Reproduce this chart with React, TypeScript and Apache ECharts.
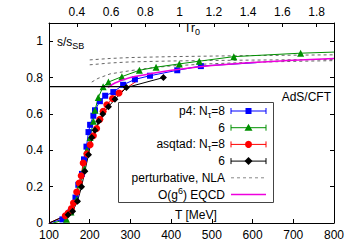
import React, { useEffect, useRef } from "react";
import * as echarts from "echarts";

// ---------- data ----------
const R0_MEV = 420.7; // 1/r0 in MeV, for the top Tr0 axis
const T_MIN = 100;
const T_MAX = 800;
const S_MIN = 0;
const S_MAX = 1.1;
const yTickValues = [0, 0.2, 0.4, 0.6, 0.8, 1];
const topTickValues = [0.4, 0.6, 0.8, 1, 1.2, 1.4, 1.6, 1.8];
const adsCftValue = 0.75;

// p4, N_tau = 8 (blue squares)
const p4Nt8T = [133, 153, 165, 172, 181, 186, 192, 197, 201, 209, 213, 225, 238, 258, 282, 311, 348, 415, 473];
const p4Nt8S = [0.02, 0.06, 0.14, 0.21, 0.27, 0.35, 0.42, 0.5, 0.54, 0.59, 0.62, 0.67, 0.7, 0.72, 0.76, 0.79, 0.81, 0.84, 0.863];
const p4Nt8Head = [[100, 0]];
const p4Nt8Tail = [[610, 0.882]];

// p4, N_tau = 6 (green triangles)
const p4Nt6T = [143, 154, 168, 176, 187, 193, 201, 209, 213, 221, 233, 246, 279, 322, 363, 420, 469, 554, 718];
const p4Nt6S = [0.02, 0.06, 0.13, 0.21, 0.3, 0.4, 0.47, 0.56, 0.62, 0.69, 0.75, 0.775, 0.805, 0.84, 0.857, 0.875, 0.89, 0.915, 0.934];
const p4Nt6Head = [[110, 0]];
const p4Nt6Tail = [[800, 0.94]];

// asqtad, N_tau = 8 (red circles)
const asqNt8T = [140, 147, 155, 160, 168, 174, 179, 184, 193, 201, 209, 217, 225, 233, 242, 256, 272];
const asqNt8S = [0.04, 0.055, 0.08, 0.11, 0.17, 0.22, 0.26, 0.33, 0.38, 0.43, 0.48, 0.52, 0.57, 0.615, 0.65, 0.685, 0.715];
const asqNt8Head = [[100, 0]];
const asqNt8Tail = [[315, 0.78]];

// asqtad, N_tau = 6 (black diamonds)
const asqNt6T = [147, 158, 170, 180, 188, 197, 205, 213, 222, 232, 246, 262, 290, 381];
const asqNt6S = [0.046, 0.064, 0.12, 0.2, 0.285, 0.375, 0.47, 0.51, 0.56, 0.6, 0.64, 0.68, 0.745, 0.8];
const asqNt6Head = [[100, 0]];

// perturbative NLA band (dashed)
const nlaUpperT = [200, 250, 300, 400, 500, 600, 700, 800];
const nlaUpperS = [0.897, 0.905, 0.91, 0.915, 0.918, 0.921, 0.923, 0.925];
const nlaMidT = [200, 250, 300, 400, 500, 600, 700, 800];
const nlaMidS = [0.87, 0.88, 0.886, 0.891, 0.894, 0.896, 0.898, 0.899];
const nlaLowT = [205, 220, 250, 300, 350, 400, 500, 600, 700, 800];
const nlaLowS = [0.775, 0.795, 0.82, 0.838, 0.853, 0.864, 0.876, 0.884, 0.889, 0.893];

// O(g^6) EQCD (magenta)
const eqcdT = [245, 262, 300, 336, 385, 420, 500, 600, 700, 800];
const eqcdS = [0.745, 0.77, 0.8, 0.815, 0.835, 0.846, 0.866, 0.883, 0.895, 0.905];

// ---------- style ----------
const FONT = "'Liberation Sans', Arial, Helvetica, sans-serif";
const BLUE = "#0000ff";
const GREEN = "#009000";
const RED = "#ff0000";
const BLACK = "#000000";
const MAGENTA = "#ee00dd";
const DASH = "#666666";

const GRID = { left: 49, top: 23, width: 285, height: 200 };

function pts(T: number[], S: number[]) {
  return T.map((t, i) => [t, S[i]]);
}
function bare(list: number[][]) {
  return list.map((p) => ({ value: p, symbol: "none" }));
}

function dataSeries(name: string, color: string, symbol: string, size: number, head: number[][], T: number[], S: number[], tail: number[][]) {
  return {
    name,
    type: "line",
    xAxisIndex: 0,
    yAxisIndex: 0,
    data: [...bare(head), ...pts(T, S), ...bare(tail)],
    symbol,
    symbolSize: size,
    showSymbol: true,
    lineStyle: { color, width: 1 },
    itemStyle: { color },
    emphasis: { disabled: true },
    z: 3,
  };
}

function dashedSeries(T: number[], S: number[]) {
  return {
    type: "line",
    data: pts(T, S),
    symbol: "none",
    lineStyle: { color: DASH, width: 1, type: [3, 3] },
    emphasis: { disabled: true },
    z: 2,
  };
}

const LEG_TEXT_X = 225;
const LEG_L1 = 231;
const LEG_L2 = 266;
const LEG_MID = (LEG_L1 + LEG_L2) / 2;
const LEG_Y0 = 111;
const LEG_DY = 16.7;

const richSub = {
  sub: { fontSize: 9, lineHeight: 9, verticalAlign: "bottom", fontFamily: FONT, fill: "#000" },
  sup: { fontSize: 9, lineHeight: 9, verticalAlign: "top", fontFamily: FONT, fill: "#000" },
};

function txt(text: string, x: number, y: number, align: string) {
  return {
    type: "text",
    x,
    y,
    z: 100,
    z2: 2,
    silent: true,
    style: {
      text,
      fill: "#000",
      fontSize: 12,
      fontFamily: FONT,
      lineHeight: 16,
      align,
      verticalAlign: "middle",
      rich: richSub,
    },
  };
}

function errLine(y: number, color: string) {
  return [
    { type: "line", z: 100, z2: 1, silent: true, shape: { x1: LEG_L1, y1: y, x2: LEG_L2, y2: y }, style: { stroke: color, lineWidth: 1 } },
    { type: "line", z: 100, z2: 1, silent: true, shape: { x1: LEG_L1, y1: y - 3, x2: LEG_L1, y2: y + 3 }, style: { stroke: color, lineWidth: 1 } },
    { type: "line", z: 100, z2: 1, silent: true, shape: { x1: LEG_L2, y1: y - 3, x2: LEG_L2, y2: y + 3 }, style: { stroke: color, lineWidth: 1 } },
  ];
}

function buildLegend() {
  const y = (i: number) => LEG_Y0 + i * LEG_DY;
  const els: any[] = [];
  els.push({
    type: "rect",
    z: 100,
    z2: 0,
    silent: true,
    shape: { x: 118.5, y: 102.5, width: 155, height: 100 },
    style: { fill: "#ffffff", stroke: "#444444", lineWidth: 1 },
  });
  // row 0: p4 Nt=8
  els.push(txt("p4: N{sub|τ}=8", LEG_TEXT_X, y(0), "right"));
  els.push(...errLine(y(0), BLUE));
  els.push({ type: "rect", z: 100, z2: 2, silent: true, shape: { x: LEG_MID - 3, y: y(0) - 3, width: 6, height: 6 }, style: { fill: BLUE } });
  // row 1: p4 Nt=6
  els.push(txt("6", LEG_TEXT_X, y(1), "right"));
  els.push(...errLine(y(1), GREEN));
  els.push({ type: "polygon", z: 100, z2: 2, silent: true, shape: { points: [[LEG_MID, y(1) - 4], [LEG_MID - 4, y(1) + 3], [LEG_MID + 4, y(1) + 3]] }, style: { fill: GREEN } });
  // row 2: asqtad Nt=8
  els.push(txt("asqtad: N{sub|τ}=8", LEG_TEXT_X, y(2), "right"));
  els.push(...errLine(y(2), RED));
  els.push({ type: "circle", z: 100, z2: 2, silent: true, shape: { cx: LEG_MID, cy: y(2), r: 3.5 }, style: { fill: RED } });
  // row 3: asqtad Nt=6
  els.push(txt("6", LEG_TEXT_X, y(3), "right"));
  els.push(...errLine(y(3), BLACK));
  els.push({ type: "polygon", z: 100, z2: 2, silent: true, shape: { points: [[LEG_MID, y(3) - 4], [LEG_MID + 4, y(3)], [LEG_MID, y(3) + 4], [LEG_MID - 4, y(3)]] }, style: { fill: BLACK } });
  // row 4: perturbative NLA
  els.push(txt("perturbative, NLA", LEG_TEXT_X, y(4), "right"));
  els.push({ type: "line", z: 100, z2: 1, silent: true, shape: { x1: LEG_L1, y1: y(4), x2: LEG_L2, y2: y(4) }, style: { stroke: "#888888", lineWidth: 1, lineDash: [3, 3] } });
  // row 5: EQCD
  els.push(txt("O(g{sup|6}) EQCD", LEG_TEXT_X, y(5), "right"));
  els.push({ type: "line", z: 100, z2: 1, silent: true, shape: { x1: LEG_L1, y1: y(5), x2: LEG_L2, y2: y(5) }, style: { stroke: MAGENTA, lineWidth: 1.5 } });
  return els;
}

const axisLineStyle = { color: "#000", width: 1 };
const tickCommon = { inside: true, length: 4, lineStyle: { color: "#000", width: 1 } };
const labelCommon = { color: "#000", fontSize: 12, fontFamily: FONT };

export default function App() {
  const ref = useRef<HTMLDivElement>(null);
  useEffect(() => {
    if (!ref.current) return;
    const chart = echarts.init(ref.current, null, { renderer: "svg" });
    const option: any = {
      animation: false,
      backgroundColor: "#ffffff",
      grid: { ...GRID, containLabel: false, outerBoundsMode: "none" },
      xAxis: [
        {
          type: "value",
          position: "bottom",
          min: T_MIN,
          max: T_MAX,
          interval: 100,
          axisLine: { show: true, onZero: false, lineStyle: axisLineStyle },
          axisTick: { ...tickCommon },
          axisLabel: { ...labelCommon, margin: 6 },
          splitLine: { show: false },
        },
        {
          type: "value",
          position: "top",
          min: T_MIN / R0_MEV,
          max: T_MAX / R0_MEV,
          axisLine: { show: true, onZero: false, lineStyle: axisLineStyle },
          axisTick: { ...tickCommon, customValues: topTickValues },
          axisLabel: { ...labelCommon, margin: 5, customValues: topTickValues, formatter: (v: number) => String(v) },
          splitLine: { show: false },
        },
      ],
      yAxis: [
        {
          type: "value",
          position: "left",
          min: S_MIN,
          max: S_MAX,
          axisLine: { show: true, onZero: false, lineStyle: axisLineStyle },
          axisTick: { ...tickCommon, customValues: yTickValues },
          axisLabel: { ...labelCommon, margin: 6, customValues: yTickValues, formatter: (v: number) => String(v) },
          splitLine: { show: false },
        },
        {
          type: "value",
          position: "right",
          min: S_MIN,
          max: S_MAX,
          axisLine: { show: true, onZero: false, lineStyle: axisLineStyle },
          axisTick: { ...tickCommon, customValues: yTickValues },
          axisLabel: { show: false },
          splitLine: { show: false },
        },
      ],
      series: [
        dashedSeries(nlaUpperT, nlaUpperS),
        dashedSeries(nlaMidT, nlaMidS),
        dashedSeries(nlaLowT, nlaLowS),
        dataSeries("p4: Nt=8", BLUE, "rect", 6, p4Nt8Head, p4Nt8T, p4Nt8S, p4Nt8Tail),
        dataSeries("p4: Nt=6", GREEN, "triangle", 7, p4Nt6Head, p4Nt6T, p4Nt6S, p4Nt6Tail),
        dataSeries("asqtad: Nt=8", RED, "circle", 7, asqNt8Head, asqNt8T, asqNt8S, asqNt8Tail),
        dataSeries("asqtad: Nt=6", BLACK, "diamond", 7, asqNt6Head, asqNt6T, asqNt6S, []),
        {
          name: "O(g6) EQCD",
          type: "line",
          data: pts(eqcdT, eqcdS),
          symbol: "none",
          smooth: true,
          lineStyle: { color: MAGENTA, width: 1.5 },
          emphasis: { disabled: true },
          z: 4,
        },
        {
          name: "AdS/CFT",
          type: "line",
          data: [[T_MIN, adsCftValue], [T_MAX, adsCftValue]],
          symbol: "none",
          lineStyle: { color: "#000", width: 1.3 },
          emphasis: { disabled: true },
          z: 5,
        },
      ],
      graphic: [
        txt("s/s{sub|SB}", 57, 42, "left"),
        txt("Tr{sub|0}", 184, 28, "left"),
        txt("T [MeV]", 175, 215, "left"),
        txt("AdS/CFT", 331, 97, "right"),
        ...buildLegend(),
      ],
    };
    chart.setOption(option);
    return () => chart.dispose();
  }, []);
  return (
    <div
      ref={ref}
      style={{ position: "fixed", left: 0, top: 0, width: 354, height: 248, background: "#fff" }}
    />
  );
}
